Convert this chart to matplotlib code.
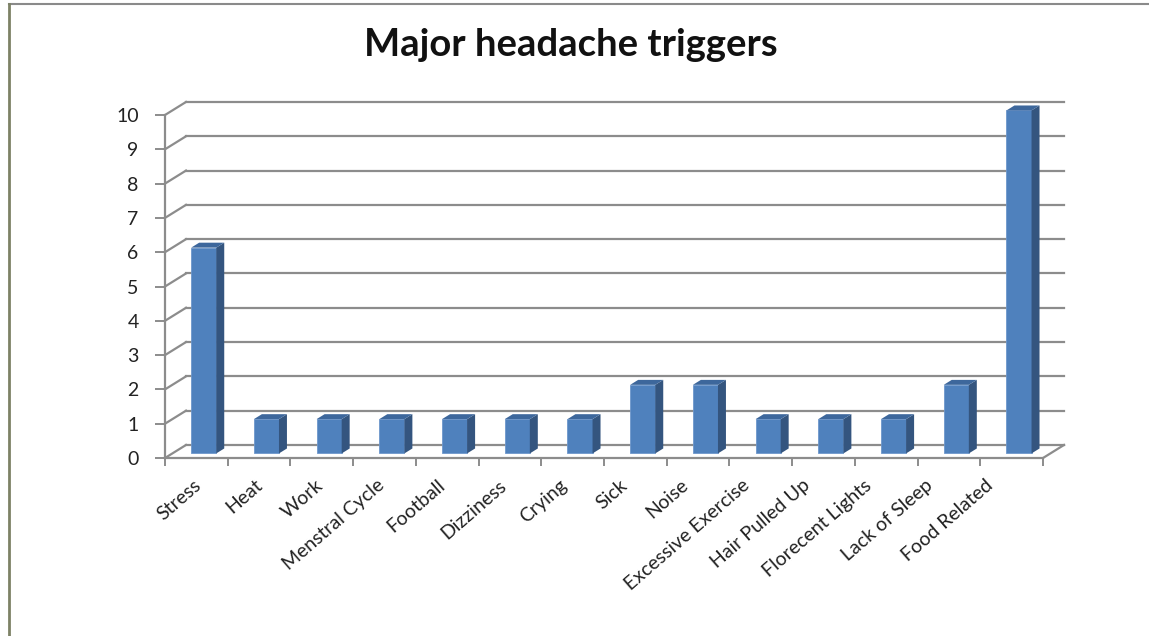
import matplotlib.pyplot as plt
from matplotlib.patches import Polygon
from matplotlib.lines import Line2D

categories = ["Stress", "Heat", "Work", "Menstral Cycle", "Football", "Dizziness",
              "Crying", "Sick", "Noise", "Excessive Exercise", "Hair Pulled Up",
              "Florecent Lights", "Lack of Sleep", "Food Related"]
counts = [6, 1, 1, 1, 1, 1, 1, 2, 2, 1, 1, 1, 2, 10]
y_ticks = list(range(0, 11))

# pseudo-3d depth offsets (data units: categories in x, counts in y)
DX, DY = 0.335, 0.38
D0, D1 = 0.35, 0.73
BAR_W = 0.4
GRID = "#8c8c8c"
FRONT, SIDE, TOP = "#4f81bd", "#34557f", "#3d679c"
# category labels sit on a slightly tighter pitch than the floor slots
LABEL_START, LABEL_STEP = 0.54, 0.9715

plt.rcParams["font.family"] = ["Lato", "DejaVu Sans"]

fig = plt.figure(figsize=(11.49, 6.36), dpi=100)
W, H = 1149, 636
ax = fig.add_axes([165 / W, (H - 458) / H, 878 / W, 343 / H])
n = len(categories)
ax.set_xlim(0, n)
ax.set_ylim(0, 10)

# back wall + left wall gridlines
for v in y_ticks:
    ax.add_line(Line2D([0, DX], [v, v + DY], color=GRID, lw=1.6, clip_on=False))
    ax.add_line(Line2D([DX, n + DX], [v + DY, v + DY], color=GRID, lw=1.6, clip_on=False))
# right floor edge
ax.add_line(Line2D([n, n + DX], [0, DY], color=GRID, lw=1.6, clip_on=False))

# bars: front face from the counts, then side and top faces
xs = [i + 0.5 - BAR_W / 2 + D0 * DX for i in range(n)]
ax.bar(xs, counts, width=BAR_W, bottom=D0 * DY, align="edge",
       color=FRONT, edgecolor="#6d97cc", linewidth=0.6, zorder=3, clip_on=False)
dd = (D1 - D0)
for x0, v in zip(xs, counts):
    y0 = D0 * DY
    x1 = x0 + BAR_W
    side = [(x1, y0), (x1 + dd * DX, y0 + dd * DY),
            (x1 + dd * DX, y0 + v + dd * DY), (x1, y0 + v)]
    top = [(x0, y0 + v), (x1, y0 + v),
           (x1 + dd * DX, y0 + v + dd * DY), (x0 + dd * DX, y0 + v + dd * DY)]
    ax.add_patch(Polygon(side, closed=True, fc=SIDE, ec="none", zorder=3, clip_on=False))
    ax.add_patch(Polygon(top, closed=True, fc=TOP, ec="none", zorder=3, clip_on=False))

for s in ["top", "right"]:
    ax.spines[s].set_visible(False)
for s in ["left", "bottom"]:
    ax.spines[s].set_color(GRID)
    ax.spines[s].set_linewidth(1.6)
    ax.spines[s].set_zorder(4)

ax.set_yticks(y_ticks)
ax.set_yticklabels([str(v) for v in y_ticks], fontsize=14, color="#222222")
ax.tick_params(axis="y", length=7, width=1.4, color=GRID, pad=12)

ax.set_xticks(range(n + 1))
ax.set_xticklabels([])
ax.tick_params(axis="x", which="major", length=6, width=1.4, color=GRID)
ax.set_xticks([LABEL_START + i * LABEL_STEP for i in range(n)], minor=True)
ax.set_xticklabels(categories, minor=True, rotation=41, ha="right", va="center",
                   rotation_mode="anchor", fontsize=14, color="#222222")
ax.tick_params(axis="x", which="minor", length=0, pad=18)

fig.text(571 / W, 1 - 45 / H, "Major headache triggers", ha="center", va="center",
         fontsize=27.5, fontweight="bold", color="#111111")

# chart frame edges
fig.add_artist(Line2D([8.5 / W, 1], [1 - 3.5 / H, 1 - 3.5 / H], color="#8a8a8a", lw=1.5))
fig.add_artist(Line2D([8.5 / W, 8.5 / W], [0, 1 - 3.5 / H], color="#7d8266", lw=2))

fig.savefig("out.png", dpi=100)
